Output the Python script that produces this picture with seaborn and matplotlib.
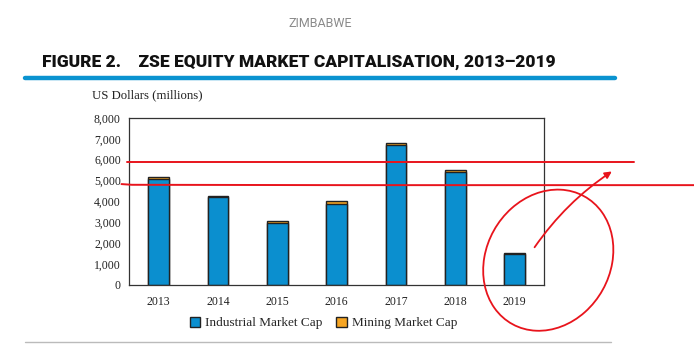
import seaborn as sns
import matplotlib.pyplot as plt
import matplotlib.patches as mpatches
from matplotlib.lines import Line2D
import pandas as pd

sns.set_style('white')
plt.rcParams['font.family'] = ['Liberation Serif', 'DejaVu Serif']

years = ['2013', '2014', '2015', '2016', '2017', '2018', '2019']
industrial = [5070, 4190, 2970, 3870, 6680, 5400, 1500]
mining = [80, 80, 70, 130, 110, 120, 30]

df = pd.DataFrame({'year': years, 'industrial': industrial, 'mining': mining})
df['total'] = df['industrial'] + df['mining']

blue = '#0b8fcf'
orange = '#f6a523'

fig = plt.figure(figsize=(6.94, 3.54), dpi=100)
ax = fig.add_axes([0.186, 0.195, 0.598, 0.472])

sns.barplot(data=df, x='year', y='total', color=orange, width=0.35,
            edgecolor='#222222', linewidth=1.0, saturation=1, ax=ax)
sns.barplot(data=df, x='year', y='industrial', color=blue, width=0.35,
            edgecolor='#222222', linewidth=1.0, saturation=1, ax=ax)

ax.set_ylim(0, 8000)
ax.set_xlim(-0.5, 6.5)
ax.set_yticks(range(0, 8001, 1000))
ax.set_yticklabels([f'{v:,}' for v in range(0, 8001, 1000)])
ax.set_xlabel('')
ax.set_ylabel('')
ax.tick_params(axis='y', direction='in', length=3, labelsize=8.5, colors='#222222', pad=6)
ax.tick_params(axis='x', length=0, labelsize=8.5, colors='#222222', pad=8)
for s in ax.spines.values():
    s.set_color('#333333')
    s.set_linewidth(0.9)

fig.text(0.132, 0.722, 'US Dollars (millions)', fontsize=9.2, color='#222222')

handles = [mpatches.Patch(facecolor=blue, edgecolor='#222222', label='Industrial Market Cap'),
           mpatches.Patch(facecolor=orange, edgecolor='#222222', label='Mining Market Cap')]
fig.legend(handles=handles, loc='center', bbox_to_anchor=(0.466, 0.088), ncol=2,
           frameon=False, fontsize=9.5, handlelength=0.8, handleheight=0.8,
           handletextpad=0.4, columnspacing=1.0)

# header
fig.text(0.462, 0.935, 'ZIMBABWE', ha='center', va='center', fontsize=9,
         color='#8a8a8a', family=['Roboto', 'DejaVu Sans'])
fig.text(0.06, 0.825, 'FIGURE 2.    ZSE EQUITY MARKET CAPITALISATION, 2013\u20132019',
         ha='left', va='center', fontsize=12.5, fontweight='black', color='#111111',
         family=['Roboto', 'DejaVu Sans'])
fig.add_artist(Line2D([0.036, 0.886], [0.78, 0.78], color='#0a93d0', lw=3.2))
fig.add_artist(Line2D([0.036, 0.88], [0.035, 0.035], color='#bbbbbb', lw=1.0))

# hand-drawn red annotations
red = '#e8141c'
fig.add_artist(Line2D([0.183, 0.914], [0.543, 0.543], color=red, lw=1.4))
fig.add_artist(Line2D([0.175, 0.19, 0.5, 1.0], [0.48, 0.478, 0.477, 0.477], color=red, lw=1.4))
fig.add_artist(mpatches.Ellipse((0.79, 0.265), 0.185, 0.40, fill=False, color=red, lw=1.3, angle=-5))
fig.add_artist(mpatches.FancyArrowPatch((0.768, 0.295), (0.885, 0.52), color=red, lw=1.3,
                                        arrowstyle='-|>', mutation_scale=10,
                                        connectionstyle='arc3,rad=-0.1'))

fig.savefig('out.png', dpi=100)
